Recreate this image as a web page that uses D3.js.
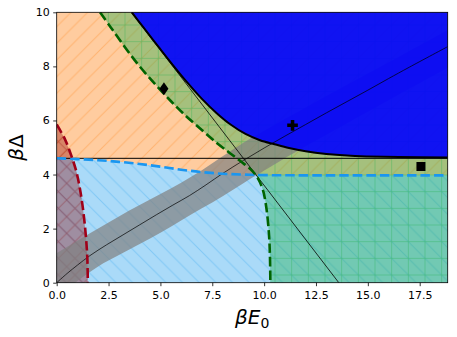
<!DOCTYPE html>
<html>
<head>
<meta charset="utf-8">
<script src="https://cdn.jsdelivr.net/npm/d3@7"></script>
<style>
  body { margin: 0; background: #fff; }
</style>
</head>
<body>
<div id="chart"></div>
<script>
// axis extent and ticks
const xMax = 18.85;
const yMax = 10;
const xTicks = [0, 2.5, 5, 7.5, 10, 12.5, 15, 17.5];
const yTicks = [0, 2, 4, 6, 8, 10];

// boundaries, [βE0, βΔ]
const blackCurve = [[3.62, 10], [4.2, 9.42], [4.9, 8.73], [5.6, 8.05], [6.3, 7.4], [7.0, 6.8],
  [7.7, 6.28], [8.4, 5.84], [9.1, 5.5], [9.8, 5.27], [10.5, 5.12], [11.2, 4.98], [12, 4.86],
  [13, 4.76], [14, 4.7], [15, 4.67], [16.5, 4.645], [18.85, 4.63]];
const greenCurve = [[2.09, 10], [2.6, 9.45], [3.29, 8.71], [4.0, 8.0], [4.82, 7.28], [5.5, 6.72],
  [6.1, 6.26], [6.9, 5.71], [7.7, 5.18], [8.34, 4.8], [8.9, 4.47], [9.38, 4.17], [9.7, 3.86],
  [9.94, 3.43], [10.1, 2.81], [10.23, 1.83], [10.28, 1.0], [10.3, 0]];
const blueDashed = [[0, 4.6], [1, 4.57], [2, 4.53], [3, 4.47], [4, 4.39], [5, 4.29], [6, 4.18],
  [7, 4.09], [8, 4.03], [9, 4.0], [10, 3.98], [12, 3.97], [18.85, 3.97]];
const redDashed = [[0, 5.85], [0.4, 5.3], [0.74, 4.62], [0.95, 4.1], [1.09, 3.6], [1.22, 3.0],
  [1.33, 2.32], [1.42, 1.6], [1.48, 0.84], [1.5, 0]];
const hLine = 4.6;
const diagLine = [[3.6, 10], [13.6, 0]];

// grey band and its centre line
const bandX = [0, 1, 2, 3, 4, 5, 6, 7, 8, 9, 10, 12, 14, 16, 18.85];
const bandHi = [1.09, 1.55, 2.0, 2.45, 2.87, 3.28, 3.7, 4.16, 4.68, 5.18, 5.62, 6.48, 7.32, 8.15, 9.35];
const bandLo = [-0.55, 0.06, 0.6, 1.02, 1.43, 1.85, 2.3, 2.75, 3.2, 3.68, 4.15, 5.05, 5.9, 6.75, 7.95];
const bandMid = [[0, 0], [0.5, 0.34], [1, 0.65], [1.6, 1.0], [2.4, 1.4], [3.2, 1.77], [4, 2.14],
  [4.8, 2.51], [5.6, 2.87], [6.4, 3.22], [7.2, 3.62], [8, 4.04], [9, 4.52], [10, 4.98], [11, 5.42],
  [12, 5.85], [13, 6.28], [14, 6.7], [15, 7.12], [16, 7.55], [17, 7.97], [18.85, 8.73]];

// marked points
const diamondPt = [5.17, 7.17];
const plusPt = [11.37, 5.82];
const squarePt = [17.56, 4.3];

const width = 457;
const height = 337;
const margin = { top: 12.3, right: 9.3, bottom: 54.3, left: 56.7 };

const x = d3.scaleLinear().domain([0, xMax]).range([margin.left, width - margin.right]);
const y = d3.scaleLinear().domain([0, yMax]).range([height - margin.bottom, margin.top]);

const svg = d3.select('#chart').append('svg')
  .attr('width', width)
  .attr('height', height)
  .style('font-family', 'DejaVu Sans, sans-serif');

const defs = svg.append('defs');
defs.append('clipPath').attr('id', 'plot-clip')
  .append('rect')
  .attr('x', x(0)).attr('y', y(yMax))
  .attr('width', x(xMax) - x(0)).attr('height', y(0) - y(yMax));

// hatch cell, like matplotlib at 100 dpi (6 lines per inch)
const s = 100 / 6;
function hatch(id, color, d) {
  defs.append('pattern')
    .attr('id', id)
    .attr('patternUnits', 'userSpaceOnUse')
    .attr('width', s).attr('height', s)
    .append('path')
    .attr('d', d)
    .attr('fill', 'none')
    .attr('stroke', color)
    .attr('stroke-width', 1);
}
const q = s / 4;
const fwd = `M0,${s}L${s},0M${-q},${q}L${q},${-q}M${s - q},${s + q}L${s + q},${s - q}`;
const back = `M0,0L${s},${s}M${-q},${s - q}L${q},${s + q}M${s - q},${-q}L${s + q},${q}`;
hatch('h-orange', '#ff7f0e', fwd);
hatch('h-blue', '#2aa2ee', back);
hatch('h-green', '#1eaf4b', `M0,${s / 2}H${s}M${s / 2},0V${s}`);
hatch('h-red', '#8b0000', fwd + back);

const line = d3.line()
  .x((d) => x(d[0]))
  .y((d) => y(d[1]))
  .curve(d3.curveCatmullRom.alpha(0.5));

function region(pts, corners) {
  return line(pts) + corners.map((c) => `L${x(c[0])},${y(c[1])}`).join('') + 'Z';
}

const plot = svg.append('g').attr('clip-path', 'url(#plot-clip)');

function fillRegion(d, color, pattern, alpha) {
  plot.append('path').attr('d', d).attr('fill', color).attr('fill-opacity', alpha);
  plot.append('path').attr('d', d).attr('fill', `url(#${pattern})`).attr('opacity', alpha * 0.8);
}

fillRegion(region(blueDashed, [[xMax + 1, yMax + 1], [-1, yMax + 1], [-1, 4.6]]), '#ff7f0e', 'h-orange', 0.4);
fillRegion(region(blueDashed, [[xMax + 1, 3.97], [xMax + 1, -1], [-1, -1], [-1, 4.6]]), '#2aa2ee', 'h-blue', 0.4);
fillRegion(region(greenCurve, [[10.3, -1], [xMax + 1, -1], [xMax + 1, yMax + 1], [2.0, yMax + 1]]), '#1eaf4b', 'h-green', 0.4);
fillRegion(region(redDashed, [[1.5, -1], [-1, -1], [-1, 5.85]]), '#8b0000', 'h-red', 0.35);

// grey band
const band = bandX.map((v, i) => ({ e: v, lo: bandLo[i], hi: bandHi[i] }));
plot.append('path')
  .attr('d', d3.area()
    .x((d) => x(d.e))
    .y0((d) => y(d.lo))
    .y1((d) => y(d.hi))
    .curve(d3.curveCatmullRom.alpha(0.5))(band))
  .attr('fill', '#808080')
  .attr('fill-opacity', 0.7);

plot.append('path')
  .attr('d', d3.line().x((d) => x(d[0])).y((d) => y(d[1]))(diagLine))
  .attr('stroke', '#000').attr('stroke-width', 0.8).attr('fill', 'none');

// dark blue region above the black curve
plot.append('path')
  .attr('d', region(blackCurve, [[xMax + 1, 4.63], [xMax + 1, yMax + 1], [3.5, yMax + 1]]))
  .attr('fill', '#0000ff')
  .attr('fill-opacity', 0.9);

plot.append('path')
  .attr('d', line(bandMid))
  .attr('stroke', '#000').attr('stroke-width', 0.7).attr('fill', 'none');

plot.append('line')
  .attr('x1', x(0)).attr('x2', x(xMax))
  .attr('y1', y(hLine)).attr('y2', y(hLine))
  .attr('stroke', '#000').attr('stroke-width', 1);

plot.append('path')
  .attr('d', line(blackCurve))
  .attr('stroke', '#000').attr('stroke-width', 2).attr('fill', 'none');

const dashes = [
  [blueDashed, '#1a96f0'],
  [greenCurve, '#006400'],
  [redDashed, '#a00018'],
];
dashes.forEach(([pts, color]) => {
  plot.append('path')
    .attr('d', line(pts))
    .attr('stroke', color)
    .attr('stroke-width', 2.6)
    .attr('stroke-dasharray', '9.5,4')
    .attr('fill', 'none');
});

// markers
plot.append('path')
  .attr('transform', `translate(${x(diamondPt[0])},${y(diamondPt[1])})`)
  .attr('d', 'M0,-6.5L4.5,0L0,6.5L-4.5,0Z')
  .attr('fill', '#000');
plot.append('path')
  .attr('transform', `translate(${x(plusPt[0])},${y(plusPt[1])})`)
  .attr('d', d3.symbol(d3.symbolCross, 63)())
  .attr('fill', '#000');
plot.append('path')
  .attr('transform', `translate(${x(squarePt[0])},${y(squarePt[1])})`)
  .attr('d', d3.symbol(d3.symbolSquare, 81)())
  .attr('fill', '#000');

// axes
const xAxis = svg.append('g')
  .attr('transform', `translate(0,${y(0)})`)
  .call(d3.axisBottom(x).tickValues(xTicks).tickFormat(d3.format('.1f'))
    .tickSize(3.5).tickSizeOuter(0).tickPadding(5));
const yAxis = svg.append('g')
  .attr('transform', `translate(${x(0)},0)`)
  .call(d3.axisLeft(y).tickValues(yTicks).tickFormat(d3.format('d'))
    .tickSize(3.5).tickSizeOuter(0).tickPadding(3.5));
[xAxis, yAxis].forEach((g) => {
  g.select('.domain').remove();
  g.selectAll('line').attr('stroke', '#000').attr('stroke-width', 0.8);
  g.selectAll('text').attr('fill', '#000')
    .style('font-family', 'DejaVu Sans, sans-serif').style('font-size', '11px');
});

svg.append('rect')
  .attr('x', x(0)).attr('y', y(yMax))
  .attr('width', x(xMax) - x(0)).attr('height', y(0) - y(yMax))
  .attr('fill', 'none').attr('stroke', '#000').attr('stroke-width', 0.8);

// axis titles
const xt = svg.append('text')
  .attr('x', (x(0) + x(xMax)) / 2)
  .attr('y', 324)
  .attr('text-anchor', 'middle')
  .style('font-size', '20px');
xt.append('tspan').style('font-style', 'italic').text('βE');
xt.append('tspan').attr('dy', 4).style('font-size', '14px').text('0');

const yt = svg.append('text')
  .attr('transform', `translate(23,${(y(0) + y(yMax)) / 2}) rotate(-90)`)
  .attr('text-anchor', 'middle')
  .style('font-size', '20px');
yt.append('tspan').style('font-style', 'italic').text('β');
yt.append('tspan').text('Δ');
</script>
</body>
</html>
